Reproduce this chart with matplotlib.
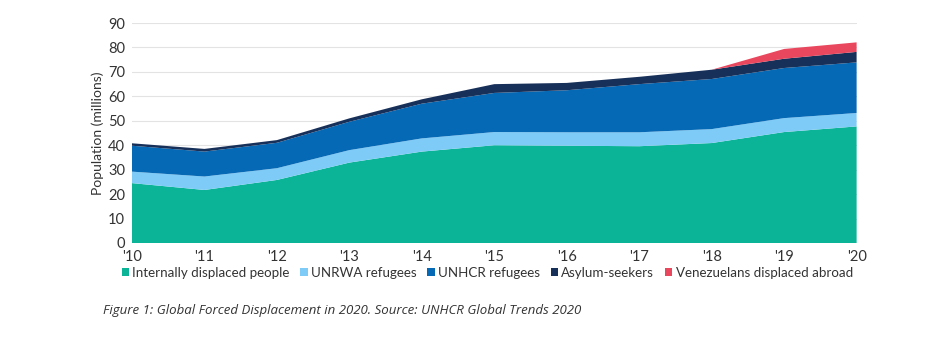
import matplotlib
matplotlib.use("Agg")
import matplotlib.pyplot as plt
from matplotlib.patches import Patch

years = [2010, 2011, 2012, 2013, 2014, 2015, 2016, 2017, 2018, 2019, 2020]
tick_labels = ["'10", "'11", "'12", "'13", "'14", "'15", "'16", "'17", "'18", "'19", "'20"]
series_names = ["Internally displaced people", "UNRWA refugees", "UNHCR refugees",
                "Asylum-seekers", "Venezuelans displaced abroad"]
idp = [24.5, 21.7, 25.8, 32.9, 37.4, 40.0, 39.8, 39.6, 40.9, 45.4, 47.7]
unrwa = [4.7, 5.5, 4.8, 5.1, 5.4, 5.4, 5.5, 5.7, 5.7, 5.7, 5.5]
unhcr = [10.6, 10.2, 10.4, 11.6, 14.2, 16.0, 17.2, 19.7, 20.5, 20.5, 20.7]
asylum = [1.0, 1.1, 1.1, 1.4, 1.8, 3.6, 3.0, 3.0, 3.8, 3.8, 4.3]
venez = [0, 0, 0, 0, 0, 0, 0, 0, 0, 4.0, 3.9]
colors = ["#0bb496", "#7fcbf7", "#0569b5", "#17305a", "#e8475d"]

plt.rcParams['font.family'] = ['Lato', 'DejaVu Sans']
fig = plt.figure(figsize=(9.46, 3.6), dpi=100)
ax = fig.add_axes([0.1395, 0.325, 0.766, 0.611])
ax.stackplot(years, idp, unrwa, unhcr, asylum, venez, colors=colors, linewidth=0)
ax.set_xlim(2010, 2020)
ax.set_ylim(0, 90)
ax.set_yticks(range(0, 91, 10))
ax.set_xticks(years)
ax.set_xticklabels(tick_labels)
ax.grid(axis='y', color='#e3e3e3', linewidth=0.8)
ax.set_axisbelow(True)
for s in ax.spines.values():
    s.set_visible(False)
ax.tick_params(axis='both', length=0, labelsize=10.5, colors='#333333')
ax.tick_params(axis='x', pad=5)
ax.tick_params(axis='y', pad=5)
ax.set_ylabel("Population (millions)", fontsize=10, color='#333333', labelpad=3)

handles = [Patch(facecolor=c, edgecolor='none') for c in colors]
fig.legend(handles, series_names, loc='center', bbox_to_anchor=(0.515, 0.242), ncol=5,
           frameon=False, fontsize=9.6, handlelength=0.55, handleheight=0.6,
           handletextpad=0.25, columnspacing=0.8, labelcolor='#333333')
fig.text(0.109, 0.138, "Figure 1: Global Forced Displacement in 2020. Source: UNHCR Global Trends 2020",
         fontsize=9.5, style='italic', color='#333333', family=['Open Sans', 'DejaVu Sans'],
         va='center')
fig.savefig("out.png", dpi=100)
